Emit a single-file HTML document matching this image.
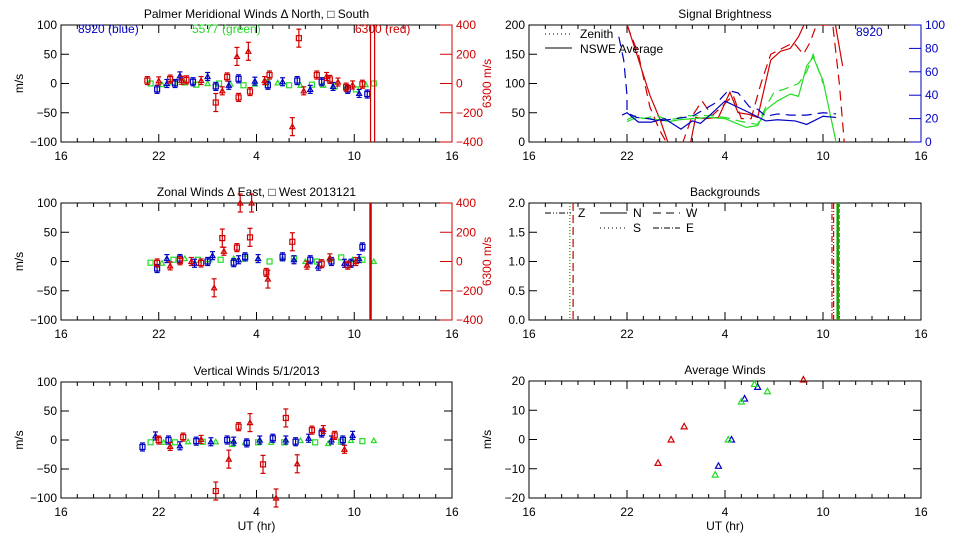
<!DOCTYPE html>
<html><head><meta charset="utf-8"><style>
html,body{margin:0;padding:0;background:#fff;width:960px;height:540px;overflow:hidden}
svg{display:block}
text{font-family:"Liberation Sans",sans-serif;font-size:12px}
</style></head><body>
<svg id="c" width="960" height="540" xmlns="http://www.w3.org/2000/svg"></svg>
<script>
// ---------- data (hours: 16..40, 24+ = next day UT) ----------
const xTickLabels=["16","22","4","10","16"];
// Meridional winds
const merBlueT=[21.9,22.5,23.0,23.3,24.1,25.0,25.5,26.3,26.9,27.9,28.7,29.6,30.5,31.3,32.0,32.7,33.6,34.3,34.8];
const merBlueV=[-10,0,0,13,3,12,-5,-3,8,4,-3,3,5,-10,3,-5,-10,-17,-18];
const merGreenT=[21.5,22.2,22.9,23.6,24.3,25.0,25.7,26.4,27.2,27.9,28.6,29.3,30.0,30.7,31.4,32.1,32.8,33.5,34.1,34.7,35.2];
const merGreenV=[0,-2,2,1,-2,0,0,-1,-3,-1,2,1,-3,-3,-2,-3,-5,-6,-10,-2,0];
const merRedT=[21.3,22.0,22.7,23.4,23.7,24.6,25.5,25.9,26.2,26.8,26.9,27.5,27.6,28.5,28.8,30.2,30.6,30.9,31.7,32.3,32.5,33.0,33.5,33.9,34.5];
const merRedV=[20,18,30,22,25,20,-130,-50,45,185,-95,220,-55,20,58,-295,310,-50,58,48,28,10,-25,-10,-5];
// Zonal winds
const zonBlueT=[21.9,22.5,23.3,24.2,25.0,25.3,26.6,26.9,27.3,28.1,29.6,30.3,31.3,31.8,32.6,33.4,33.8,34.3,34.5];
const zonBlueV=[-12,5,5,-3,0,10,-2,3,8,5,8,3,3,-8,0,-3,-3,5,25];
const zonGreenT=[21.5,22.2,22.9,23.6,24.4,25.1,25.8,26.6,27.3,28.1,28.8,29.6,30.3,31.0,31.7,32.5,33.2,33.9,34.5,35.2];
const zonGreenV=[-2,-3,3,5,3,3,3,5,5,5,0,5,5,0,0,5,7,3,3,0];
const zonRedT=[21.9,22.7,23.3,24.0,24.6,25.4,25.9,26.0,26.8,27.0,27.6,27.7,28.6,28.7,30.2,31.1,32.0,32.5,33.6,34.1];
const zonRedV=[-10,-30,5,0,-10,-180,160,70,95,400,165,400,-75,-120,135,-25,-15,25,-25,0];
// Vertical winds
const verBlueT=[21.0,21.8,22.6,23.3,24.3,25.2,26.2,26.6,27.4,28.2,29.0,29.8,30.4,31.2,32.0,32.6,33.3,33.9];
const verBlueV=[-12,7,0,-10,-2,-3,0,-2,-5,0,3,0,-3,3,12,0,0,8];
const verGreenT=[21.5,22.3,23.0,23.8,24.7,25.5,26.5,27.3,28.1,28.9,29.7,30.7,31.6,32.4,33.2,33.8,34.5,35.2];
const verGreenV=[-4,-4,-4,-3,-3,-3,-7,-4,-4,-4,-4,-1,-4,-6,-3,-1,-2,-1];
const verRedT=[22.0,22.7,23.5,24.6,25.5,26.3,26.9,27.6,28.4,29.2,29.8,30.5,31.4,32.1,32.8,33.4];
const verRedV=[0,-11,5,1,-88,-33,23,30,-42,-100,38,-41,17,18,8,-16];
// Signal brightness
const brRedSolidA_T=[21.9,22.6,23.4,24.0,24.5];const brRedSolidA_V=[210,150,80,40,0];
const brRedSolidB_T=[25.9,26.2,26.8,27.6,28.3,28.8,29.5,30.0,30.8,31.4,32.0,32.5,33.0];
const brRedSolidB_V=[0,42,40,42,85,50,47,42,140,155,160,180,210];
const brRedSolidC_T=[34.7,35.2];const brRedSolidC_V=[210,130];
const brRedDashT=[22.0,22.7,23.4,24.0,24.4,25.3,26.0,26.6,27.2,27.8,28.5,29.0,29.6,30.2,30.8,31.5,32.2,32.8,33.2,33.6,34.6,35.0,35.3];
const brRedDashV=[200,150,60,20,0,-10,45,70,45,60,80,40,40,100,150,160,170,150,170,200,200,100,0];
const brGreenSolidT=[22.0,22.6,23.3,24.0,24.6,25.2,26.0,27.0,28.0,29.3,30.0,30.5,31.2,32.0,32.5,33.0,33.4,34.0,34.8];
const brGreenSolidV=[35,42,40,38,35,38,40,42,40,25,28,55,70,82,78,130,145,105,0];
const brGreenDashT=[22.0,22.5,23.0,23.8,24.5,25.0,25.6,26.3,27.2,28.0,29.0,30.0,30.5,31.0,31.6,32.5,33.0,33.4,34.0];
const brGreenDashV=[38,45,40,45,38,40,45,45,45,42,35,30,60,85,90,100,120,150,100];
const brBlueSolidT=[21.7,22.0,22.7,23.5,24.3,25.3,26.0,26.5,27.0,28.0,29.5,30.5,31.2,32.3,33.0,34.0,34.8];
const brBlueSolidV=[23,25,17,17,20,11,18,16,22,35,25,18,19,18,15,22,21];
const brBlueDashT=[21.5,21.8,22.0,22.0,22.6,23.3,24.0,25.0,26.0,27.0,27.6,28.2,28.8,29.5,30.0,30.5,31.2,32.0,33.0,34.0,34.8];
const brBlueDashV=[90,70,40,25,21,20,18,20,22,30,35,44,42,30,28,22,24,23,23,25,24];
// Backgrounds vertical lines
const bgTimes=[18.5,18.7,34.55,34.65,34.9,35.0];
const bgColors=["#0a0","#c00","#c00","#c00","#0a0","#c60"];
const bgDash=["1,2","8,4","6,2,1,2","6,2,1,2,1,2","","4,2"];
// Average winds
const avgRedT=[23.9,24.7,25.5,32.8];const avgRedV=[-8,0,4.5,20.5];
const avgBlueT=[27.6,28.4,29.2,30.0];const avgBlueV=[-9,0,14,18];
const avgGreenT=[27.4,28.2,29.0,29.8,30.6];const avgGreenV=[-12,0,13,19,16.5];

// ---------- drawing ----------
const S=document.getElementById('c');const NS="http://www.w3.org/2000/svg";
function el(t,a,p){const e=document.createElementNS(NS,t);for(const k in a)e.setAttribute(k,a[k]);(p||S).appendChild(e);return e;}
function txt(x,y,s,a,p){const e=el('text',Object.assign({x:x,y:y},a||{}),p);e.textContent=s;return e;}
const BLUE="#0000c0",GREEN="#22dd22",RED="#d00000";
function panel(name,x0,x1,y0,y1,ymin,ymax,yt,title,opt){
  const g=el('g',{});
  
  
  const X=t=>x0+(t-16)/24*(x1-x0);
  const Y=v=>y1-(v-ymin)/(ymax-ymin)*(y1-y0);
  el('rect',{x:x0,y:y0,width:x1-x0,height:y1-y0,fill:'none',stroke:'#000','stroke-width':1},g);
  for(let h=16;h<=40;h++){const major=(h-16)%6==0;const L=major?8:4;const x=X(h);
    el('line',{x1:x,y1:y1,x2:x,y2:y1-L,stroke:'#000'},g);el('line',{x1:x,y1:y0,x2:x,y2:y0+L,stroke:'#000'},g);
    if(major){const lb=txt(x,y1+18,xTickLabels[(h-16)/6],{'text-anchor':'middle'},g);}}
  yt.forEach(v=>{const y=Y(v);el('line',{x1:x0,y1:y,x2:x0+8,y2:y,stroke:'#000'},g);
    if(!opt.right)el('line',{x1:x1,y1:y,x2:x1-8,y2:y,stroke:'#000'},g);
    const lb=txt(x0-4,y+4,String(opt.fmt?opt.fmt(v):v).replace('-','\u2212'),{'text-anchor':'end'},g);});
  const tt=txt((x0+x1)/2,y0-7,title,{'text-anchor':'middle'},g);
  if(opt.ylab){const yl=txt(0,0,opt.ylab,{transform:`translate(${x0-38},${(y0+y1)/2}) rotate(-90)`,'text-anchor':'middle'},g);}
  if(opt.xlab){const xl=txt((x0+x1)/2,y1+32,opt.xlab,{'text-anchor':'middle'},g);}
  if(opt.right){const r=opt.right;const YR=v=>y1-(v-r.min)/(r.max-r.min)*(y1-y0);
    el('line',{x1:x1,y1:y0,x2:x1,y2:y1,stroke:r.color},g);
    r.ticks.forEach(v=>{const y=YR(v);el('line',{x1:x1,y1:y,x2:x1-12,y2:y,stroke:r.color},g);
      const lb=txt(x1+4,y+4,String(v).replace('-','\u2212'),{fill:r.color,'font-size':r.fs||12},g);});
    if(r.label){const rl=txt(0,0,r.label,{transform:`translate(${x1+39},${(y0+y1)/2}) rotate(-90)`,'text-anchor':'middle',fill:r.color,'font-size':r.fs||12},g);}
  }
  return {g,X,Y};
}
function sym(p,T,V,color,scale,errs,name){
  T.forEach((t,i)=>{const x=p.X(t),v=V[i]/(scale||1);if(v>105||v<-105)return;const y=p.Y(Math.max(Math.min(v,100),-100));
    const gg=el('g',{},p.g);
    
    
    const e=errs?(Math.abs(v)>25?9:4):0;
    if(e){el('line',{x1:x,y1:y-e,x2:x,y2:y+e,stroke:color,'stroke-width':1.2},gg);el('line',{x1:x-2.5,y1:y-e,x2:x+2.5,y2:y-e,stroke:color,'stroke-width':1.2},gg);el('line',{x1:x-2.5,y1:y+e,x2:x+2.5,y2:y+e,stroke:color,'stroke-width':1.2},gg);}
    if(i%2==0)el('rect',{x:x-2.5,y:y-2.5,width:5,height:5,fill:'none',stroke:color,'stroke-width':1.2},gg);
    else el('path',{d:`M${x-2.5},${y+2}L${x+2.5},${y+2}L${x},${y-2.5}Z`,fill:'none',stroke:color,'stroke-width':1.2},gg);
  });
}
function clip(p,id,x0,y0,w,h){const cp=el('clipPath',{id:id},p.g);el('rect',{x:x0,y:y0,width:w,height:h},cp);return el('g',{'clip-path':`url(#${id})`},p.g);}
function line(p,c,T,V,color,dash,scale,name){const pts=T.map((t,i)=>p.X(t)+','+p.Y(V[i]*(scale||1))).join(' ');
  const l=el('polyline',{points:pts,fill:'none',stroke:color,'stroke-width':1.2,'stroke-dasharray':dash||''},c);
  
  }

const LX0=61,LX1=452,RX0=529,RX1=921;
// Panel 1
const p1=panel('meridional-winds-panel',LX0,LX1,25,142,-100,100,[-100,-50,0,50,100],'Palmer Meridional Winds \u0394 North, \u25a1 South',{ylab:'m/s',right:{min:-400,max:400,ticks:[-400,-200,0,200,400],color:RED,label:'6300 m/s'}});
txt(78,33,'8920 (blue)',{fill:BLUE,'font-size':13},p1.g);txt(192,33,'5577 (green)',{fill:GREEN,'font-size':13},p1.g);txt(355,33,'6300 (red)',{fill:RED,'font-size':13},p1.g);
sym(p1,merGreenT,merGreenV,GREEN,1,false,'green-5577-point');
sym(p1,merBlueT,merBlueV,BLUE,1,true,'blue-8920-point');
sym(p1,merRedT,merRedV,RED,4,true,'red-6300-point');
el('line',{x1:p1.X(35.0),y1:25,x2:p1.X(35.0),y2:142,stroke:RED,'stroke-width':1.2},p1.g);
el('line',{x1:p1.X(35.25),y1:25,x2:p1.X(35.25),y2:142,stroke:RED,'stroke-width':1.2},p1.g);
// Panel 2
const p2=panel('zonal-winds-panel',LX0,LX1,203,320,-100,100,[-100,-50,0,50,100],'Zonal Winds \u0394 East, \u25a1 West 2013121',{ylab:'m/s',right:{min:-400,max:400,ticks:[-400,-200,0,200,400],color:RED,label:'6300 m/s',fs:9}});
sym(p2,zonGreenT,zonGreenV,GREEN,1,false,'green-5577-point');
sym(p2,zonBlueT,zonBlueV,BLUE,1,true,'blue-8920-point');
sym(p2,zonRedT,zonRedV,RED,4,true,'red-6300-point');
el('line',{x1:p2.X(35.0),y1:203,x2:p2.X(35.0),y2:320,stroke:RED,'stroke-width':2.5},p2.g);
// Panel 3
const p3=panel('vertical-winds-panel',LX0,LX1,382,498,-100,100,[-100,-50,0,50,100],'Vertical Winds 5/1/2013',{ylab:'m/s',xlab:'UT (hr)'});
sym(p3,verGreenT,verGreenV,GREEN,1,false,'green-5577-point');
sym(p3,verBlueT,verBlueV,BLUE,1,true,'blue-8920-point');
sym(p3,verRedT,verRedV,RED,1,true,'red-6300-point');
// Panel 4 signal brightness
const p4=panel('signal-brightness-panel',RX0,RX1,25,142,0,200,[0,50,100,150,200],'Signal Brightness',{right:{min:0,max:100,ticks:[0,20,40,60,80,100],color:BLUE}});
const c4=clip(p4,'c4',RX0,25,RX1-RX0,117);
line(p4,c4,brRedSolidA_T,brRedSolidA_V,RED,'',1,'red-average-line');
line(p4,c4,brRedSolidB_T,brRedSolidB_V,RED,'',1,'red-average-line');
line(p4,c4,brRedSolidC_T,brRedSolidC_V,RED,'',1,'red-average-line');
line(p4,c4,brRedDashT,brRedDashV,RED,'10,6',1,'red-zenith-line');
line(p4,c4,brGreenSolidT,brGreenSolidV,GREEN,'',1,'green-average-line');
line(p4,c4,brGreenDashT,brGreenDashV,GREEN,'10,6',1,'green-zenith-line');
line(p4,c4,brBlueSolidT,brBlueSolidV,BLUE,'',2,'blue-average-line');
line(p4,c4,brBlueDashT,brBlueDashV,BLUE,'10,6',2,'blue-zenith-line');
el('line',{x1:545,y1:34,x2:572,y2:34,stroke:'#000','stroke-dasharray':'1,3'},p4.g);txt(580,38,'Zenith',{'font-size':11},p4.g);
el('line',{x1:545,y1:48,x2:572,y2:48,stroke:'#000'},p4.g);txt(580,53,'NSWE Average',{'font-size':11},p4.g);
txt(856,36,'8920',{fill:BLUE,'font-size':15},p4.g);
// Panel 5 backgrounds
const p5=panel('backgrounds-panel',RX0,RX1,203,320,0,2,[0,0.5,1,1.5,2],'Backgrounds',{fmt:v=>v.toFixed(1)});
bgTimes.forEach((t,i)=>{const l=el('line',{x1:p5.X(t),y1:203,x2:p5.X(t),y2:320,stroke:bgColors[i],'stroke-width':i==4?2.5:1.2,'stroke-dasharray':bgDash[i]},p5.g);
  
  });
const lg=[[545,213,'Z','6,2,1,2,1,2'],[600,213,'N',''],[653,213,'W','8,5'],[600,228,'S','1,3'],[653,228,'E','6,2,1,2']];
lg.forEach(a=>{el('line',{x1:a[0],y1:a[1],x2:a[0]+27,y2:a[1],stroke:'#000','stroke-dasharray':a[3]},p5.g);txt(a[0]+33,a[1]+4,a[2],{'font-size':11},p5.g);});
// Panel 6 average winds
const p6=panel('average-winds-panel',RX0,RX1,381,498,-20,20,[-20,-10,0,10,20],'Average Winds',{ylab:'m/s',xlab:'UT (hr)'});
function tri(p,T,V,color,name){T.forEach((t,i)=>{if(V[i]>20.5)return;const x=p.X(t),y=p.Y(V[i]);
  const e=el('path',{d:`M${x-3},${y+2.5}L${x+3},${y+2.5}L${x},${y-3}Z`,fill:'none',stroke:color,'stroke-width':1.2},p.g);
  
  });}
tri(p6,avgRedT,avgRedV,RED,'avg-red-point');tri(p6,avgBlueT,avgBlueV,BLUE,'avg-blue-point');tri(p6,avgGreenT,avgGreenV,GREEN,'avg-green-point');
</script>
</body></html>
